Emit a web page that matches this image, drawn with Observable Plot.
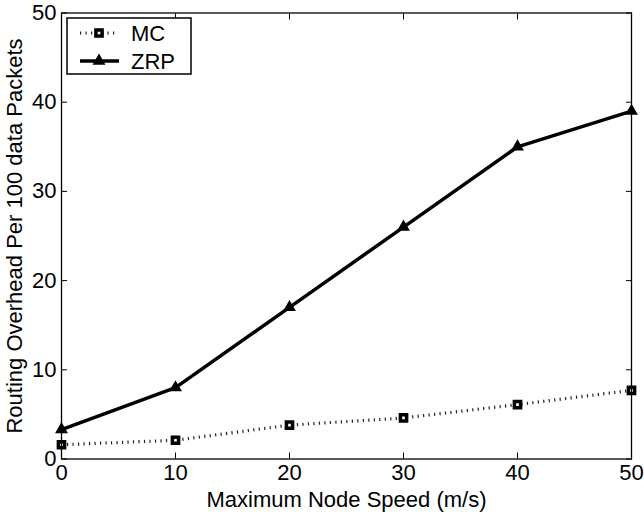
<!DOCTYPE html>
<html><head><meta charset="utf-8">
<script src="https://cdn.jsdelivr.net/npm/d3@7"></script>
<script src="https://cdn.jsdelivr.net/npm/@observablehq/plot@0.6"></script>
<style>
body{margin:0;background:#fff;}
#wrap{position:relative;width:644px;height:514px;}
#wrap svg.legend{position:absolute;}
</style></head><body><div id="wrap"></div>
<script>
// ---- data ----
const speeds = [0, 10, 20, 30, 40, 50];
const mcValues = [1.6, 2.1, 3.8, 4.6, 6.1, 7.7];
const zrpValues = [3.3, 8.0, 17.0, 26.0, 35.0, 39.0];
const seriesNames = ["MC", "ZRP"];
const xTicks = [0, 10, 20, 30, 40, 50];
const yTicks = [0, 10, 20, 30, 40, 50];
const xLabel = "Maximum Node Speed (m/s)";
const yLabel = "Routing Overhead Per 100 data Packets";

const mcData = speeds.map((s, i) => ({x: s, y: mcValues[i]}));
const zrpData = speeds.map((s, i) => ({x: s, y: zrpValues[i]}));

const FONT = "'Liberation Sans', Arial, Helvetica, sans-serif";

const chart = Plot.plot({
  width: 644,
  height: 514,
  marginLeft: 61,
  marginRight: 13,
  marginTop: 12.5,
  marginBottom: 55.5,
  style: {fontFamily: FONT, fontSize: "22px", color: "black", background: "white", overflow: "visible"},
  x: {domain: [0, 50]},
  y: {domain: [0, 50]},
  marks: [
    Plot.line(mcData, {x: "x", y: "y", stroke: "#222", strokeWidth: 3.2, strokeDasharray: "1.2,4.3", strokeLinecap: "butt"}),
    Plot.dot(mcData, {x: "x", y: "y", symbol: "square", r: 3.5, fill: "white", stroke: "black", strokeWidth: 3.5}),
    Plot.line(zrpData, {x: "x", y: "y", stroke: "black", strokeWidth: 3.5}),
    Plot.dot(zrpData, {x: "x", y: "y", symbol: "triangle", r: 4.8, fill: "black", stroke: "none"}),
    Plot.axisX({ticks: xTicks, tickSize: -6, tickPadding: 11, label: xLabel, labelAnchor: "center", labelArrow: "none", labelOffset: 48}),
    Plot.axisX({anchor: "top", ticks: xTicks, tickSize: -6, tickFormat: () => "", label: null}),
    Plot.axisY({ticks: yTicks, tickSize: -6, tickPadding: 11, label: yLabel, labelAnchor: "center", labelArrow: "none", labelOffset: 55}),
    Plot.axisY({anchor: "right", ticks: yTicks, tickSize: -6, tickFormat: () => "", label: null}),
    Plot.frame({stroke: "black", strokeWidth: 1.3})
  ]
});
const wrap = document.getElementById("wrap");
wrap.appendChild(chart);

// ---- legend (overlay) ----
const lg = d3.select(wrap).append("svg").attr("class", "legend")
  .attr("width", 130).attr("height", 60)
  .style("left", "66px").style("top", "17px");
lg.append("rect").attr("x", 1).attr("y", 1).attr("width", 124).attr("height", 56)
  .attr("fill", "white").attr("stroke", "black").attr("stroke-width", 1.5);
const rows = [
  {name: seriesNames[0], y: 16},
  {name: seriesNames[1], y: 44}
];
// MC row
lg.append("line").attr("x1", 14).attr("x2", 50).attr("y1", rows[0].y).attr("y2", rows[0].y)
  .attr("stroke", "#222").attr("stroke-width", 3.2).attr("stroke-dasharray", "1.2,4.3");
lg.append("path").attr("transform", `translate(33,${rows[0].y})`)
  .attr("d", d3.symbol(d3.symbolSquare, Math.PI * 3.5 * 3.5)())
  .attr("fill", "white").attr("stroke", "black").attr("stroke-width", 3.5);
// ZRP row
lg.append("line").attr("x1", 14).attr("x2", 53).attr("y1", rows[1].y).attr("y2", rows[1].y)
  .attr("stroke", "black").attr("stroke-width", 3.5);
lg.append("path").attr("transform", `translate(33,${rows[1].y})`)
  .attr("d", d3.symbol(d3.symbolTriangle, Math.PI * 4.8 * 4.8)())
  .attr("fill", "black");
rows.forEach(r => {
  lg.append("text").attr("x", 65).attr("y", r.y).attr("dy", "0.36em")
    .attr("font-family", FONT).attr("font-size", 22).text(r.name);
});
</script></body></html>
